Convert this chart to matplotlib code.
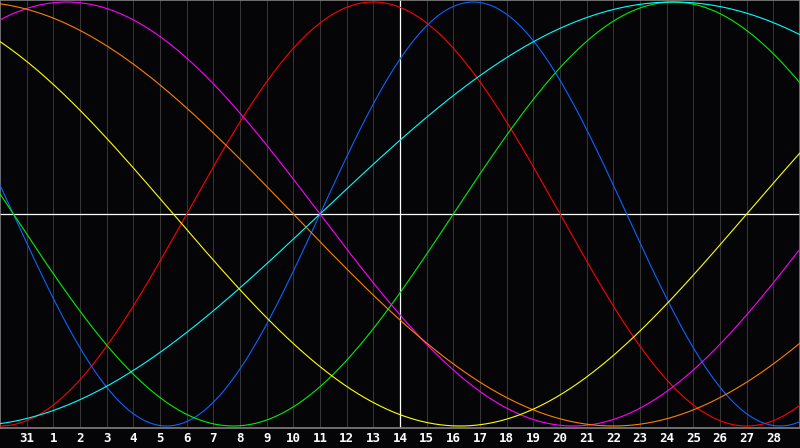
import numpy as np
import matplotlib
matplotlib.use("Agg")
import matplotlib.pyplot as plt

# --- Rótulos dos dias (um por linha de grade) ---
day_labels = ["31"] + [str(d) for d in range(1, 29)]
n_days = 30

# --- Ciclos: período (dias) e dia do cruzamento ascendente do zero ---
cycle_names = ["emocional", "fisico", "intelectual", "espiritual", "intuitivo", "consciencia", "estetico"]
cycle_periods = [28, 23, 33, 53, 38, 48, 43]
cycle_zero_day = [7, 12, 17, 12, -7, -13, 28]
cycle_colors = ["#ff0000", "#0a64ff", "#00ee00", "#00ffff", "#ff00ff", "#ff7f00", "#ffff00"]

bg = "#050508"

fig = plt.figure(figsize=(8, 4.48), dpi=100, facecolor=bg)
ax = fig.add_axes([0, 20 / 448, 1, 428 / 448])
ax.set_facecolor(bg)

# --- Grade vertical ---
for i in range(1, n_days):
    ax.axvline(i, color="#353535", lw=0.75, zorder=1)

# --- Eixos centrais ---
ax.axvline(n_days / 2, color="white", lw=0.9, zorder=2)
ax.axhline(0, color="white", lw=0.9, zorder=2)

# --- Curvas ---
t = np.linspace(0, n_days, 801)
for name, p, z, c in zip(cycle_names, cycle_periods, cycle_zero_day, cycle_colors):
    ax.plot(t, np.sin(2 * np.pi * (t - z) / p), color=c, lw=0.8, zorder=3, label=name)

ax.set_xlim(0, n_days)
ax.set_ylim(-214 / 212, 214 / 212)
ax.set_yticks([])
ax.set_xticks(range(1, n_days))
ax.set_xticklabels(day_labels, color="white", fontsize=9, fontweight="bold", family="DejaVu Sans Mono")
ax.tick_params(axis="x", length=0, pad=3)
for s in ax.spines.values():
    s.set_color("#808080")
    s.set_linewidth(1.2)

fig.savefig("out.png", dpi=100, facecolor=bg)
